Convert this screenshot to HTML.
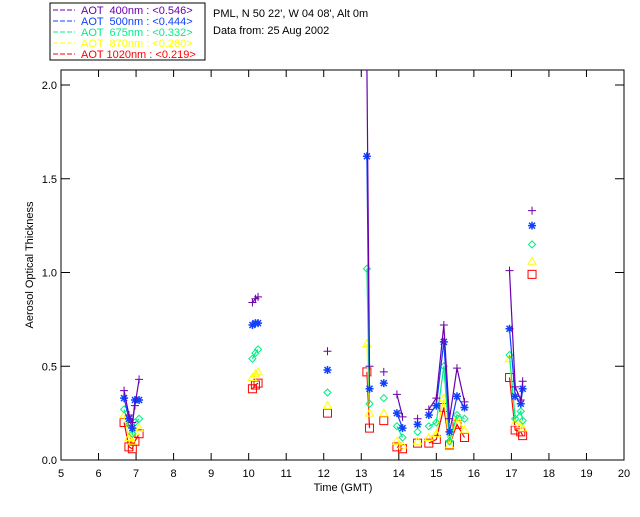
<!DOCTYPE html>
<html><head><meta charset="utf-8"><style>
body{margin:0;background:#fff;width:640px;height:512px;overflow:hidden}
svg text{font-family:"Liberation Sans",sans-serif;font-size:11px}
</style></head><body>
<svg id="c" width="640" height="512">
<defs><clipPath id="clip"><rect x="61" y="70" width="563" height="390"/></clipPath></defs>
<rect x="50" y="3" width="155" height="57" fill="none" stroke="#000"/>
<g id="leg"></g>
<text x="213" y="17">PML, N 50 22', W 04 08', Alt 0m</text>
<text x="213" y="34">Data from: 25 Aug 2002</text>
<rect x="61" y="70" width="563" height="390" fill="none" stroke="#000"/>
<g id="ax"></g>
<g id="marks" clip-path="url(#clip)"></g>
<text x="343" y="491" text-anchor="middle">Time (GMT)</text>
<text transform="translate(33,265) rotate(-90)" text-anchor="middle">Aerosol Optical Thickness</text>
</svg>
<script>
const times=[6.68,6.81,6.90,6.97,7.08,10.1,10.18,10.25,12.1,13.15,13.22,13.6,13.95,14.1,14.5,14.8,15.0,15.2,15.35,15.55,15.75,16.95,17.1,17.25,17.3,17.55];
const aot400=[0.37,0.24,0.20,0.29,0.43,0.84,0.86,0.87,0.58,2.10,0.50,0.47,0.35,0.23,0.22,0.27,0.33,0.72,0.22,0.49,0.31,1.01,0.39,0.32,0.42,1.33];
const aot500=[0.33,0.22,0.17,0.32,0.32,0.72,0.73,0.73,0.48,1.62,0.38,0.41,0.25,0.17,0.19,0.24,0.29,0.63,0.15,0.34,0.28,0.70,0.34,0.30,0.38,1.25];
const aot675=[0.27,0.19,0.14,0.20,0.22,0.54,0.57,0.59,0.36,1.02,0.30,0.33,0.18,0.12,0.15,0.18,0.20,0.50,0.10,0.24,0.22,0.56,0.22,0.26,0.21,1.15];
const aot870=[0.24,0.12,0.10,0.15,0.17,0.44,0.46,0.47,0.29,0.62,0.25,0.25,0.10,0.08,0.10,0.12,0.14,0.33,0.08,0.22,0.16,0.54,0.20,0.19,0.17,1.06];
const aot1020=[0.20,0.07,0.06,0.10,0.14,0.38,0.40,0.41,0.25,0.47,0.17,0.21,0.07,0.06,0.09,0.09,0.11,0.28,0.08,0.19,0.12,0.44,0.16,0.15,0.13,0.99];
const xTicks=[5,6,7,8,9,10,11,12,13,14,15,16,17,18,19,20];
const yTicks=[0,0.5,1.0,1.5,2.0];
const legendLabels=["AOT  400nm : <0.546>","AOT  500nm : <0.444>","AOT  675nm : <0.332>","AOT  870nm : <0.260>","AOT 1020nm : <0.219>"];
const colors=["#6a00b0","#1040ff","#00ee88","#ffff00","#ff0000"];
const shapes=["plus","star","diamond","triangle","square"];
const series=[aot400,aot500,aot675,aot870,aot1020];
const X=t=>61+(t-5)*563/15, Y=v=>460-v*187.5;
const NS="http://www.w3.org/2000/svg";
function mk(tag,at,p){const e=document.createElementNS(NS,tag);for(const k in at)e.setAttribute(k,at[k]);p.appendChild(e);return e;}
const ax=document.getElementById('ax'),mg=document.getElementById('marks'),lg=document.getElementById('leg');
xTicks.forEach(t=>{const x=X(t);
 const a=mk('line',{x1:x,x2:x,y1:460,y2:453,stroke:'#000'},ax);
 mk('line',{x1:x,x2:x,y1:70,y2:77,stroke:'#000'},ax);
 const tx=mk('text',{x:x,y:477,'text-anchor':'middle'},ax);tx.textContent=t;
 });
yTicks.forEach(v=>{const y=Y(v);
 const a=mk('line',{x1:61,x2:70,y1:y,y2:y,stroke:'#000'},ax);
 mk('line',{x1:624,x2:615,y1:y,y2:y,stroke:'#000'},ax);
 const tx=mk('text',{x:57,y:y+4,'text-anchor':'end'},ax);tx.textContent=v.toFixed(1);
 });
function marker(s,x,y,c,g){
 if(s==='plus'){mk('path',{d:`M${x-4},${y}h8M${x},${y-4}v8`,stroke:c,fill:'none'},g);}
 else if(s==='star'){mk('path',{d:`M${x-4},${y}h8M${x},${y-4}v8M${x-3},${y-3}l6,6M${x-3},${y+3}l6,-6`,stroke:c,'stroke-width':1.5,fill:'none'},g);}
 else if(s==='diamond'){mk('path',{d:`M${x},${y-3.5}l3.5,3.5l-3.5,3.5l-3.5,-3.5z`,stroke:c,fill:'none'},g);}
 else if(s==='triangle'){mk('path',{d:`M${x},${y-4}l4,7h-8z`,stroke:c,fill:'none'},g);}
 else mk('rect',{x:x-4,y:y-4,width:8,height:8,stroke:c,fill:'none'},g);
}
for(let k=4;k>=0;k--){
 const vals=series[k],c=colors[k];
 const g=mk('g',{},mg);
 let d='';
 times.forEach((t,i)=>{const cmd=(i===0||t-times[i-1]>0.22)?'M':'L';d+=cmd+X(t).toFixed(1)+','+Y(vals[i]).toFixed(1);});
 const p=mk('path',{d:d,stroke:c,fill:'none','stroke-width':1.2},g);
 times.forEach((t,i)=>{if(vals[i]<=2.07)marker(shapes[k],X(t),Y(vals[i]),c,g);});
}
legendLabels.forEach((l,i)=>{const y=14+i*11;
 mk('line',{x1:53,x2:75,y1:y-4,y2:y-4,stroke:colors[i],'stroke-dasharray':'5,2'},lg);
 const tx=mk('text',{x:81,y:y,fill:colors[i],'xml:space':'preserve'},lg);tx.textContent=l;tx.style.whiteSpace='pre';
 });
</script>
</body></html>
